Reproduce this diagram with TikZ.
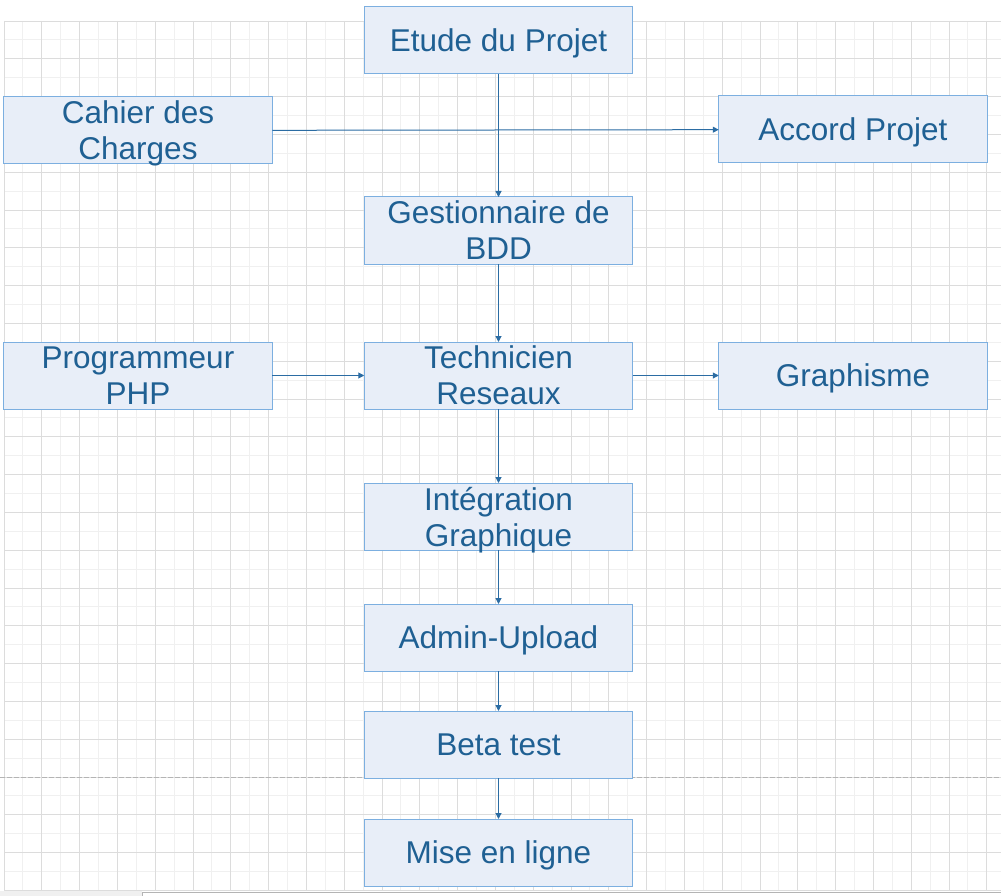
\documentclass[tikz,border=0pt]{standalone}
\usepackage{fontspec}
\setmainfont{Liberation Sans}
\usepackage{xcolor}
\usetikzlibrary{arrows.meta, positioning}
\definecolor{boxfill}{HTML}{E8EEF8}
\definecolor{boxedge}{HTML}{7CAFE0}
\definecolor{boxtext}{HTML}{1F6093}
\definecolor{linkblue}{HTML}{2B6CA3}
\definecolor{gridminor}{HTML}{F0F0F0}
\definecolor{gridmajor}{HTML}{DCDCDC}
\definecolor{pagegray}{HTML}{B4B4B4}

\begin{document}
\begin{tikzpicture}[
  x=1pt, y=-1pt,
  flowbox/.style={rectangle, draw=boxedge, fill=boxfill, line width=1pt, inner sep=0pt, outer sep=0pt, minimum width=268.5pt, minimum height=67pt, align=center, text=boxtext, text depth=0pt, font=\fontsize{31.5}{36}\selectfont},
  oneline/.style={text height=22.5pt},
  arrow/.style={-{Triangle[width=6pt, length=6pt]}, line width=1pt, color=linkblue}
]
  \useasboundingbox (0,0) rectangle (1001,896);

  % Grid paper
  \foreach \gx in {4,22.9,...,1001} \draw[gridminor, line width=0.9pt] (\gx,21) -- (\gx,891);
  \foreach \gy in {21,39.9,...,891} \draw[gridminor, line width=0.9pt] (4,\gy) -- (1001,\gy);
  \foreach \gx in {4,41.8,...,1001} \draw[gridmajor, line width=0.9pt] (\gx,21) -- (\gx,891);
  \foreach \gy in {21,58.8,...,891} \draw[gridmajor, line width=0.9pt] (4,\gy) -- (1001,\gy);

  % Page break and bottom bar
  \draw[pagegray, line width=1pt, dash pattern=on 5pt off 2pt] (0,777) -- (1001,777);
  \fill[gridminor] (0,891) rectangle (142,896);
  \draw[pagegray, line width=1pt] (142,896) |- (1001,892);

  % Main column
  \node[flowbox, oneline] (etude) at (498.5,40.5) {Etude du Projet};
  \node[flowbox, below=123pt of etude] (gestion) {Gestionnaire de\\BDD};
  \node[flowbox, below=78pt of gestion] (tech) {Technicien\\Reseaux};
  \node[flowbox, below=74pt of tech] (integ) {Intégration\\Graphique};
  \node[flowbox, oneline, below=54pt of integ] (admin) {Admin-Upload};
  \node[flowbox, oneline, below=40pt of admin] (beta) {Beta test};
  \node[flowbox, oneline, below=41pt of beta] (mise) {Mise en ligne};

  % Side boxes
  \node[flowbox, below left=23pt and 92pt of etude] (cahier) {Cahier des\\Charges};
  \node[flowbox, oneline, below right=22pt and 86pt of etude] (accord) {Accord Projet};
  \node[flowbox, left=92pt of tech] (prog) {Programmeur\\PHP};
  \node[flowbox, oneline, right=86pt of tech] (graph) {Graphisme};

  % Arrows
  \draw[arrow] (cahier) -- (accord);
  \draw[arrow] (etude) -- (gestion);
  \draw[arrow] (gestion) -- (tech);
  \draw[arrow] (prog) -- (tech);
  \draw[arrow] (tech) -- (graph);
  \draw[arrow] (tech) -- (integ);
  \draw[arrow] (integ) -- (admin);
  \draw[arrow] (admin) -- (beta);
  \draw[arrow] (beta) -- (mise);
\end{tikzpicture}
\end{document}
